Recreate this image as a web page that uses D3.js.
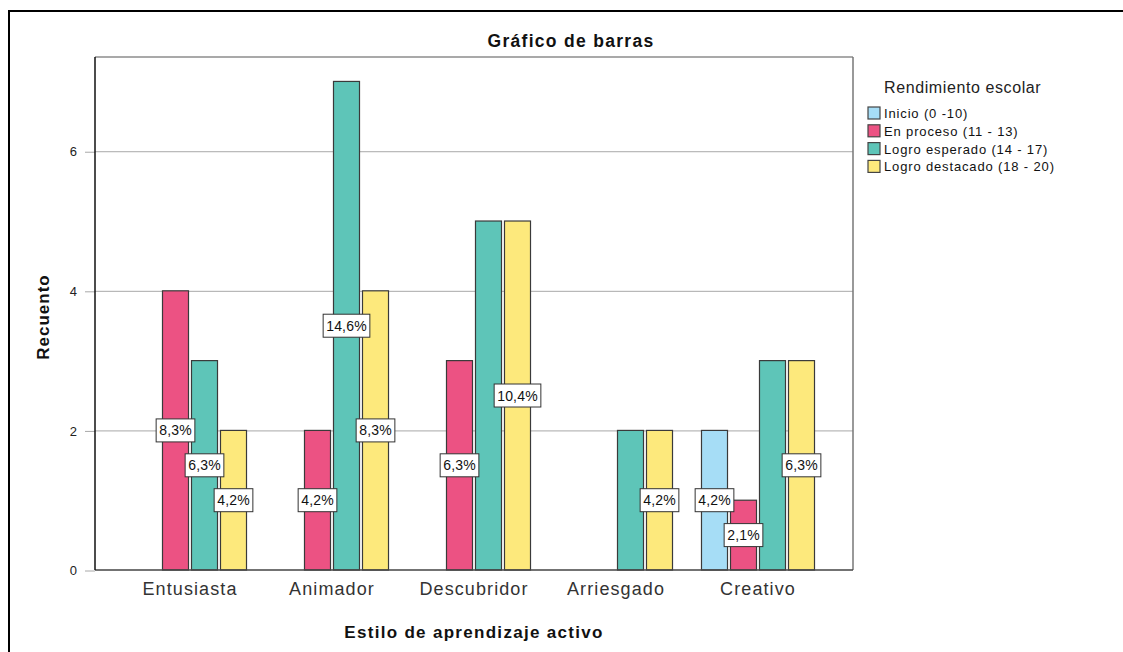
<!DOCTYPE html>
<html><head><meta charset="utf-8">
<script src="https://cdn.jsdelivr.net/npm/d3@7"></script>
<style>body{margin:0;background:#fff}svg{display:block;font-family:Arial,"Liberation Sans",sans-serif}</style>
</head><body><svg id="c" width="1123" height="652"></svg>
<script>
const categories = ["Entusiasta","Animador","Descubridor","Arriesgado","Creativo"];
const seriesNames = ["Inicio (0 -10)","En proceso (11 - 13)","Logro esperado (14 - 17)","Logro destacado (18 - 20)"];
const inicio   = [0,0,0,0,2];
const enProceso = [4,2,3,0,1];
const logroEsperado = [3,7,5,2,3];
const logroDestacado = [2,4,5,2,3];
const yTicks = [0,2,4,6];
const colors = ["#a6ddf6","#ec5283","#5ec5b8","#fde97c"];

const seriesVals = [inicio,enProceso,logroEsperado,logroDestacado];
const total = d3.sum(seriesVals.flat());

const svg = d3.select("#c");
const L=95, R=853, T=57, B=570;

// outer frame
svg.append("rect").attr("x",9).attr("y",11).attr("width",1130).attr("height",660)
  .attr("fill","none").attr("stroke","#000").attr("stroke-width",2);

const y = d3.scaleLinear().domain([0,7.35]).range([B,T]);
const x0 = d3.scaleBand().domain(categories).range([119,829]);
const x1 = d3.scaleBand().domain(seriesNames).range([-58,58]).paddingInner(0.103).paddingOuter(0.0515);

// gridlines
svg.append("g").selectAll("line").data(yTicks.filter(d=>d>0)).join("line")
  .attr("x1",L).attr("x2",R).attr("y1",d=>y(d)+0.5).attr("y2",d=>y(d)+0.5)
  .attr("stroke","#a8a8a8").attr("stroke-width",1);

// y axis ticks
const yAxis = d3.axisLeft(y).tickValues(yTicks).tickSize(10).tickPadding(8).tickFormat(d3.format("d"));
const ga = svg.append("g").attr("transform",`translate(${L},0.5)`).call(yAxis);
ga.select(".domain").remove();
ga.selectAll(".tick line").attr("stroke","#a8a8a8");
ga.selectAll(".tick text").attr("font-size",13).attr("fill","#222").attr("font-family","Arial,'Liberation Sans',sans-serif");

// plot frame
svg.append("line").attr("x1",L).attr("x2",R).attr("y1",T).attr("y2",T).attr("stroke","#8c8c8c").attr("stroke-width",1.5);
svg.append("line").attr("x1",R).attr("x2",R).attr("y1",T).attr("y2",B).attr("stroke","#777").attr("stroke-width",1.5);

// bars
const data = [];
categories.forEach((c,i)=>seriesNames.forEach((s,j)=>data.push({c,s,j,v:seriesVals[j][i]})));
const gb = svg.append("g");
gb.selectAll("rect").data(data.filter(d=>d.v>0)).join("rect")
  .attr("x",d=>x0(d.c)+x0.bandwidth()/2+x1(d.s))
  .attr("y",d=>y(d.v))
  .attr("width",x1.bandwidth())
  .attr("height",d=>y(0)-y(d.v))
  .attr("fill",d=>colors[d.j]).attr("stroke","#3a3a3a").attr("stroke-width",1.2);

// axes lines
svg.append("line").attr("x1",L).attr("x2",R).attr("y1",B).attr("y2",B).attr("stroke","#444").attr("stroke-width",1.5);
svg.append("line").attr("x1",L).attr("x2",L).attr("y1",T).attr("y2",B).attr("stroke","#111").attr("stroke-width",1.5);

// category labels
const xAxis = d3.axisBottom(x0).tickSize(0).tickPadding(12);
const gx = svg.append("g").attr("transform",`translate(0,${B})`).call(xAxis);
gx.select(".domain").remove();
gx.selectAll(".tick text").attr("font-size",18).attr("letter-spacing","1.1px").attr("fill","#333").attr("font-family","Arial,'Liberation Sans',sans-serif");

// percentage labels, hide those overlapping a later series label
const fmt = v => d3.format(".1f")(v*100/total).replace(".",",")+"%";
const labels = [];
data.filter(d=>d.v>0).forEach(d=>{
  const cx = x0(d.c)+x0.bandwidth()/2+x1(d.s)+x1.bandwidth()/2;
  labels.push({cx, cy:y(d.v/2), t:fmt(d.v), c:d.c, j:d.j});
});
const kept = [];
labels.slice().reverse().forEach(l=>{
  const w = l.t.length*7.8+6;
  const ov = kept.some(k=>Math.abs(k.cx-l.cx) < (w+k.w)/2 && Math.abs(k.cy-l.cy)<22);
  if(!ov){l.w=w;kept.push(l);}
});
const gl = svg.append("g");
kept.forEach(l=>{
  const g = gl.append("g");
  const txt = g.append("text").attr("x",l.cx).attr("y",l.cy+5).attr("text-anchor","middle")
    .attr("font-size",14).attr("letter-spacing","0.2px").attr("fill","#111").text(l.t);
  const bb = txt.node().getBBox();
  g.insert("rect","text").attr("x",bb.x-3).attr("y",l.cy-11.5).attr("width",bb.width+6).attr("height",23)
    .attr("fill","#fff").attr("stroke","#333").attr("stroke-width",1);
});

// titles
svg.append("text").attr("x",571).attr("y",47).attr("text-anchor","middle").attr("font-weight","bold")
  .attr("font-size",17.5).attr("letter-spacing","1.3px").attr("fill","#111").text("Gráfico de barras");
svg.append("text").attr("x",474).attr("y",638).attr("text-anchor","middle").attr("font-weight","bold")
  .attr("font-size",17).attr("letter-spacing","1.3px").attr("fill","#111").text("Estilo de aprendizaje activo");
svg.append("text").attr("transform","translate(49,317) rotate(-90)").attr("text-anchor","middle").attr("font-weight","bold")
  .attr("font-size",17).attr("letter-spacing","1px").attr("fill","#111").text("Recuento");

// legend
const lg = svg.append("g");
lg.append("text").attr("x",884).attr("y",93).attr("font-size",16).attr("letter-spacing","0.6px").attr("fill","#222").text("Rendimiento escolar");
const items = lg.selectAll("g.it").data(seriesNames).join("g").attr("class","it")
  .attr("transform",(d,i)=>`translate(868,${107+i*17.8})`);
items.append("rect").attr("width",12).attr("height",12).attr("fill",(d,i)=>colors[i]).attr("stroke","#444").attr("stroke-width",1.2);
items.append("text").attr("x",16).attr("y",11).attr("font-size",13).attr("letter-spacing","0.85px").attr("fill","#111").text(d=>d);
</script></body></html>
